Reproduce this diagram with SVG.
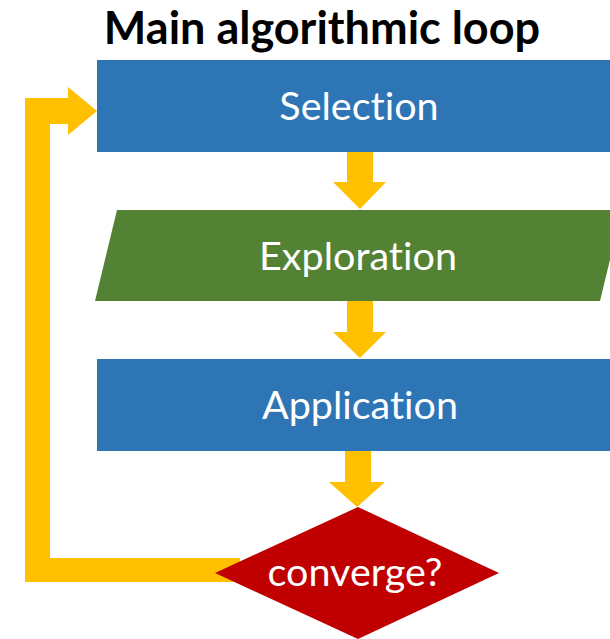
<svg xmlns="http://www.w3.org/2000/svg" width="610" height="639" viewBox="0 0 610 639">
<style>
.lbl{font-family:Lato,"Open Sans","Liberation Sans",sans-serif;font-size:39.5px;fill:#ffffff;text-anchor:middle;font-variant-ligatures:none}
.title{font-family:Lato,"Open Sans","Liberation Sans",sans-serif;font-size:45px;font-weight:bold;fill:#000000;text-anchor:middle;font-variant-ligatures:none}
.conn{fill:#FFC000}
</style>
<rect width="610" height="639" fill="#ffffff"/>
<text class="title" x="322" y="44">Main algorithmic loop</text>
<g id="connectors">
<polygon class="conn" points="347,152 373,152 373,182 386,182 360,209 333,182 347,182"/>
<polygon class="conn" points="347,300 373,300 373,332 386,332 360,358 333,332 347,332"/>
<polygon class="conn" points="345,451 371,451 371,482 385,482 357,507 329,482 345,482"/>
<polygon class="conn" points="240,558 50,558 50,124 68,124 68,135 97,111 68,87 68,98 25,98 25,582 240,582"/>
</g>
<g id="selection">
<rect x="97" y="60" width="520" height="92" fill="#2E75B6"/>
<text class="lbl" x="359" y="120">Selection</text>
</g>
<g id="exploration">
<polygon points="117,210 622,210 600,301 95,301" fill="#548235"/>
<text class="lbl" x="358" y="270">Exploration</text>
</g>
<g id="application">
<rect x="97" y="359" width="520" height="92" fill="#2E75B6"/>
<text class="lbl" x="360" y="419">Application</text>
</g>
<g id="converge">
<polygon points="358,507 499,573 358,639 215,573" fill="#C00000"/>
<text class="lbl" x="355" y="586">converge?</text>
</g>
</svg>
